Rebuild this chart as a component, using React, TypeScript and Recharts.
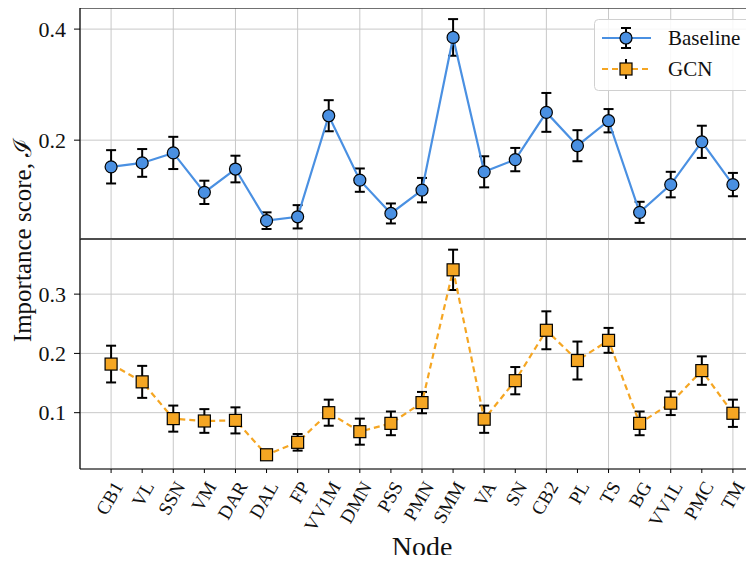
import React from 'react';
import { LineChart, Line, XAxis, YAxis, CartesianGrid, ErrorBar, ReferenceLine, Legend, Label } from 'recharts';

const nodes = ['CB1', 'VL', 'SSN', 'VM', 'DAR', 'DAL', 'FP', 'VV1M', 'DMN', 'PSS', 'PMN', 'SMM', 'VA', 'SN', 'CB2', 'PL', 'TS', 'BG', 'VV1L', 'PMC', 'TM'];
const baselineMean = [0.152, 0.159, 0.177, 0.106, 0.148, 0.055, 0.062, 0.244, 0.128, 0.068, 0.110, 0.385, 0.143, 0.165, 0.250, 0.190, 0.235, 0.070, 0.120, 0.197, 0.120];
const baselineErr = [0.030, 0.025, 0.029, 0.021, 0.024, 0.015, 0.021, 0.028, 0.021, 0.018, 0.022, 0.033, 0.028, 0.021, 0.035, 0.028, 0.021, 0.019, 0.023, 0.029, 0.021];
const gcnMean = [0.182, 0.152, 0.090, 0.086, 0.087, 0.029, 0.050, 0.100, 0.068, 0.082, 0.117, 0.341, 0.089, 0.154, 0.239, 0.188, 0.222, 0.082, 0.116, 0.171, 0.099];
const gcnErr = [0.031, 0.027, 0.022, 0.020, 0.022, 0.007, 0.014, 0.022, 0.022, 0.020, 0.018, 0.034, 0.023, 0.023, 0.032, 0.032, 0.021, 0.020, 0.020, 0.024, 0.023];

const topTicks = [0.2, 0.4];
const bottomTicks = [0.1, 0.2, 0.3];
const topDomain = [0.022, 0.438];
const bottomDomain = [0.005, 0.393];
const xDomain = [-1, 21];

const data = nodes.map((n, i) => ({
  idx: i,
  node: n,
  baseline: baselineMean[i],
  baselineErr: baselineErr[i],
  gcn: gcnMean[i],
  gcnErr: gcnErr[i],
}));
const idxTicks = nodes.map((_, i) => i);
const gridTicks = idxTicks.filter((i) => i % 2 === 0);

const FONT = '"Liberation Serif", "DejaVu Serif", serif';
const BLUE = '#4a90e2';
const ORANGE = '#f5a623';
const GRID = '#c8c8c8';

const CircleDot = (props: any) => {
  const { cx, cy } = props;
  if (cx == null || cy == null) return null;
  return <circle cx={cx} cy={cy} r={6} fill={BLUE} stroke="#000" strokeWidth={1.2} />;
};
const SquareDot = (props: any) => {
  const { cx, cy } = props;
  if (cx == null || cy == null) return null;
  return <rect x={cx - 6} y={cy - 6} width={12} height={12} fill={ORANGE} stroke="#000" strokeWidth={1.2} />;
};

const RotTick = (props: any) => {
  const { x, y, payload } = props;
  return (
    <text
      transform={`translate(${x + 7},${y + 8}) rotate(-60)`}
      textAnchor="end"
      dominantBaseline="central"
      style={{ fontFamily: FONT, fontSize: 19 }}
      fill="#111"
    >
      {nodes[payload.value]}
    </text>
  );
};

const renderLegend = () => (
  <svg width={160} height={73}>
    <rect x={0.5} y={0.5} width={158} height={71} rx={4} fill="rgba(255,255,255,0.85)" stroke="#d0d0d0" />
    <line x1={8} y1={19} x2={57} y2={19} stroke={BLUE} strokeWidth={2.2} />
    <line x1={32} y1={9} x2={32} y2={29} stroke="#000" strokeWidth={2} />
    <line x1={27} y1={9} x2={37} y2={9} stroke="#000" strokeWidth={2} />
    <line x1={27} y1={29} x2={37} y2={29} stroke="#000" strokeWidth={2} />
    <circle cx={32} cy={19} r={6} fill={BLUE} stroke="#000" strokeWidth={1.2} />
    <text x={74} y={19} dominantBaseline="central" fontFamily={FONT} fontSize={21} fill="#111">Baseline</text>
    <line x1={8} y1={50} x2={57} y2={50} stroke={ORANGE} strokeWidth={2.2} strokeDasharray="6 4" />
    <line x1={32} y1={40} x2={32} y2={60} stroke="#000" strokeWidth={2} />
    <rect x={26} y={44} width={12} height={12} fill={ORANGE} stroke="#000" strokeWidth={1.2} />
    <text x={74} y={50} dominantBaseline="central" fontFamily={FONT} fontSize={21} fill="#111">GCN</text>
  </svg>
);

const yTickStyle = { fontFamily: FONT, fontSize: 22, fill: '#111' };

export default function App() {
  return (
    <div style={{ position: 'relative', width: 754, height: 563, margin: -8, overflow: 'hidden', background: '#fff' }}>
      <div style={{ position: 'absolute', left: 0, top: 0 }}>
        <LineChart width={800} height={563} data={data} margin={{ top: 8, right: 36, bottom: 323, left: 0 }}>
          <XAxis xAxisId="g" dataKey="idx" type="number" domain={xDomain} ticks={gridTicks} hide allowDataOverflow />
          <CartesianGrid xAxisId="g" stroke={GRID} strokeWidth={1} />
          <XAxis
            dataKey="idx"
            type="number"
            domain={xDomain}
            ticks={idxTicks}
            tick={false}
            tickLine={false}
            axisLine={{ stroke: '#000', strokeWidth: 1.2 }}
            height={1}
            allowDataOverflow
          />
          <YAxis
            type="number"
            domain={topDomain}
            ticks={topTicks}
            width={80}
            allowDataOverflow
            tickSize={6}
            tickMargin={8}
            tickFormatter={(v: number) => v.toFixed(1)}
            tick={yTickStyle}
            tickLine={{ stroke: '#000' }}
            axisLine={{ stroke: '#000', strokeWidth: 1.2 }}
            label={{
              content: () => (
                <text
                  transform="translate(22,240) rotate(-90)"
                  textAnchor="middle"
                  dominantBaseline="central"
                  fontFamily={FONT}
                  fontSize={25}
                  fill="#111"
                >
                  Importance score, ℐ
                </text>
              ),
            }}
          />
          <ReferenceLine y={topDomain[1]} stroke="#000" strokeWidth={1.2} />
          <Line
            dataKey="baseline"
            stroke={BLUE}
            strokeWidth={2.2}
            dot={<CircleDot />}
            activeDot={false}
            isAnimationActive={false}
          >
            <ErrorBar dataKey="baselineErr" stroke="#000" strokeWidth={2} width={5} direction="y" isAnimationActive={false} />
          </Line>
          <Legend
            layout="vertical"
            align="center"
            verticalAlign="middle"
            content={renderLegend}
            wrapperStyle={{ position: 'absolute', left: 594, top: 19, width: 160, height: 73 }}
          />
        </LineChart>
      </div>
      <div style={{ position: 'absolute', left: 0, top: 0 }}>
        <LineChart width={800} height={563} data={data} margin={{ top: 239, right: 36, bottom: 0, left: 0 }}>
          <XAxis xAxisId="g" dataKey="idx" type="number" domain={xDomain} ticks={gridTicks} hide allowDataOverflow />
          <CartesianGrid xAxisId="g" stroke={GRID} strokeWidth={1} />
          <XAxis
            dataKey="idx"
            type="number"
            domain={xDomain}
            ticks={idxTicks}
            interval={0}
            allowDataOverflow
            height={94}
            tickSize={4}
            tickLine={{ stroke: '#000' }}
            axisLine={{ stroke: '#000', strokeWidth: 1.2 }}
            tick={<RotTick />}
          >
            <Label value="Node" position="insideBottom" offset={7} style={{ fontFamily: FONT, fontSize: 28, fill: '#111' }} />
          </XAxis>
          <YAxis
            type="number"
            domain={bottomDomain}
            ticks={bottomTicks}
            width={80}
            allowDataOverflow
            tickSize={6}
            tickMargin={8}
            tickFormatter={(v: number) => v.toFixed(1)}
            tick={yTickStyle}
            tickLine={{ stroke: '#000' }}
            axisLine={{ stroke: '#000', strokeWidth: 1.2 }}
          />
          <ReferenceLine y={bottomDomain[1]} stroke="#000" strokeWidth={1.2} />
          <Line
            dataKey="gcn"
            stroke={ORANGE}
            strokeWidth={2.2}
            strokeDasharray="6 4"
            dot={<SquareDot />}
            activeDot={false}
            isAnimationActive={false}
          >
            <ErrorBar dataKey="gcnErr" stroke="#000" strokeWidth={2} width={5} direction="y" isAnimationActive={false} />
          </Line>
        </LineChart>
      </div>
    </div>
  );
}
